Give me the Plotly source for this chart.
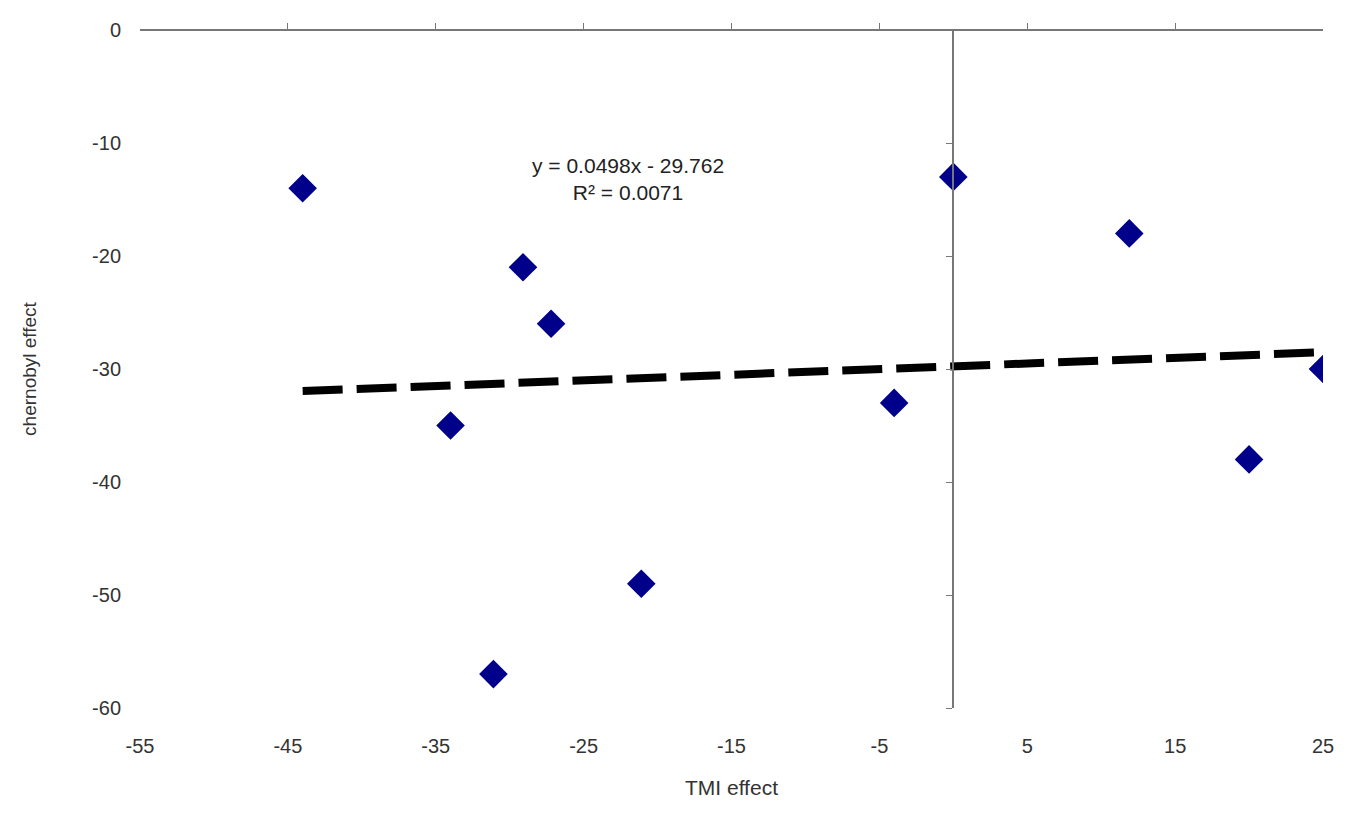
import plotly.graph_objects as go

# TMI vs chernobyl effect
tmi_effect = [-44, -29.1, -27.2, -34, -31.1, -21.1, -4, 0, 11.9, 20, 25]
chernobyl_effect = [-14, -21, -26, -35, -57, -49, -33, -13, -18, -38, -30]

slope = 0.0498
intercept = -29.762
trend_x = [min(tmi_effect), max(tmi_effect)]
trend_y = [slope * v + intercept for v in trend_x]

x_ticks = [-55, -45, -35, -25, -15, -5, 5, 15, 25]
y_ticks = [0, -10, -20, -30, -40, -50, -60]

fig = go.Figure()
fig.add_trace(go.Scatter(x=tmi_effect, y=chernobyl_effect, mode='markers',
                         marker=dict(symbol='diamond', size=22, color='#00008B')))
fig.add_trace(go.Scatter(x=trend_x, y=trend_y, mode='lines',
                         line=dict(color='black', width=8, dash='40px,14px')))
# axes that cross at zero, Excel style
fig.add_trace(go.Scatter(x=[], y=[], xaxis='x2', yaxis='y2'))

font = dict(family='Liberation Sans, Arial', size=20, color='#333333')
fig.update_layout(
    width=1346, height=819, showlegend=False,
    plot_bgcolor='white', paper_bgcolor='white',
    margin=dict(l=132, r=31, t=22, b=119),
    font=font,
    xaxis=dict(range=[-55, 25], tickvals=x_ticks, ticktext=[str(v) for v in x_ticks],
               showgrid=False, zeroline=False, showline=False, ticks='',
               ticklabelstandoff=24,
               title=dict(text='TMI effect', standoff=24, font=dict(size=21))),
    yaxis=dict(range=[-60, 0], tickvals=y_ticks, ticktext=[str(v) for v in y_ticks],
               showgrid=False, zeroline=False, showline=False, ticks='',
               ticklabelstandoff=18,
               title=dict(text='chernobyl effect', standoff=50, font=dict(size=19))),
    xaxis2=dict(range=[-55, 25], tickvals=x_ticks, overlaying='x', anchor='free', position=1,
                side='bottom', showticklabels=False, ticks='inside', ticklen=6,
                showline=True, linecolor='#777777', linewidth=2, tickcolor='#777777',
                showgrid=False, zeroline=False),
    yaxis2=dict(range=[-60, 0], tickvals=y_ticks, overlaying='y', anchor='free',
                position=55 / 80, showticklabels=False, ticks='outside', ticklen=6,
                showline=True, linecolor='#777777', linewidth=2, tickcolor='#777777',
                showgrid=False, zeroline=False),
    annotations=[dict(x=-22, y=-13.2, xref='x', yref='y', showarrow=False,
                      text='y = 0.0498x - 29.762<br>R² = 0.0071',
                      font=dict(size=21, family='Liberation Sans, Arial', color='#222222'))],
)
fig.write_html("out.html")
